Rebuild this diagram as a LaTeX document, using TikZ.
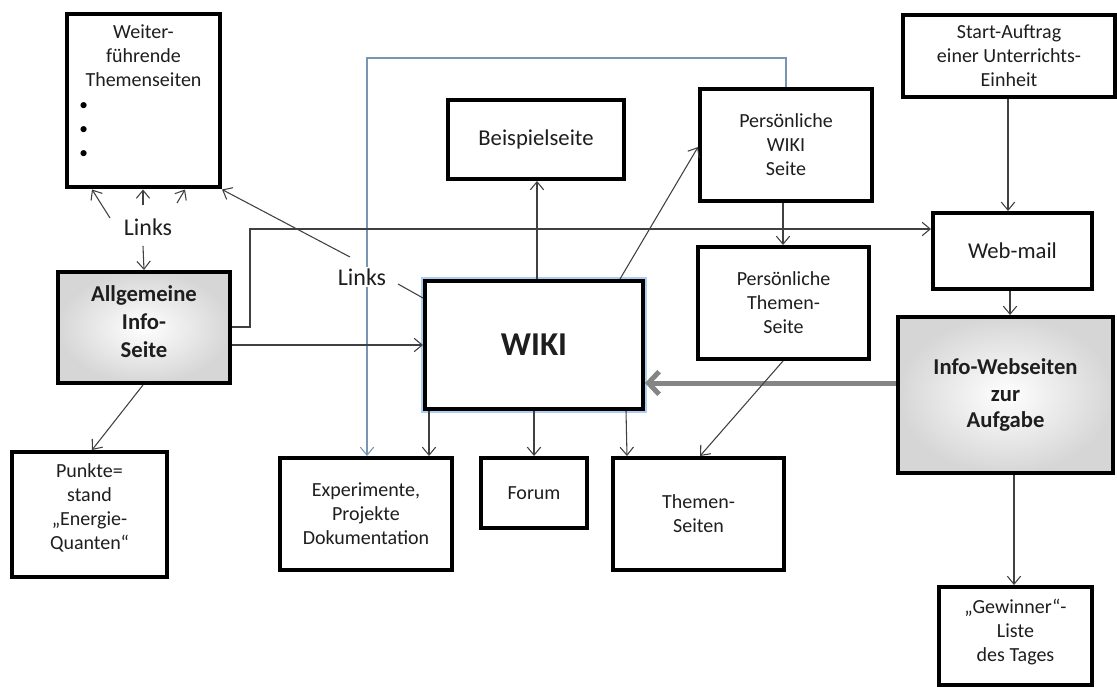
\documentclass[tikz,border=0pt]{standalone}
\usepackage{fontspec}
\setmainfont{Carlito}
\usetikzlibrary{arrows.meta,shadows}
\newcommand\fsz[2]{\fontsize{#1}{#2}\selectfont}
\definecolor{glow}{RGB}{175,205,242}
\definecolor{bluel}{RGB}{120,150,180}
\definecolor{txt}{RGB}{30,30,30}
\begin{document}
\begin{tikzpicture}[x=0.75pt,y=-0.75pt,
  box/.style={draw=black, line width=3pt, fill=white, align=center, inner sep=0pt, font=\fsz{15}{18}, text=txt},
  sz/.style 2 args={minimum width=#1*0.75pt, minimum height=#2*0.75pt},
  arr/.style={draw=black!75, line width=0.8pt, -{Straight Barb[length=6pt,width=10pt]}},
  ln/.style={draw=black!75, line width=0.8pt},
  bluearr/.style={draw=bluel, line width=0.8pt, -{Straight Barb[length=6pt,width=10pt]}},
  grayarr/.style={draw=black!48, line width=3.75pt, -{Straight Barb[length=8pt,width=17pt]}},
  shadebox/.style={box, inner color=white, outer color=black!16, drop shadow={opacity=0.3, shadow xshift=1.5pt, shadow yshift=-1.5pt}},
  lbl/.style={font=\fsz{18}{22}, text=txt, inner sep=1pt},
]
\useasboundingbox (0,0) rectangle (1117,688);

% boxes
\node[box, sz={153}{173}] (weiter) at (143.5,101) {};
\node[anchor=north, align=center, font=\fsz{15}{18}, text=txt, inner sep=0pt] (weitertxt) at (143.5,24) {Weiter-\\führende\\Themenseiten};
\node[anchor=north west, align=left, font=\fsz{13}{18}, text=black, inner sep=0pt] (bul) at (79,102) {\textbullet\\\textbullet\\\textbullet};

\node[shadebox, sz={172}{111}, font=\bfseries\fsz{17}{21}, text depth=9pt] (allg) at (144,327.5) {Allgemeine\\Info-\\Seite};
\node[box, sz={155}{125}, text depth=12pt] (punkte) at (89.5,514.5) {Punkte=\\stand\\„Energie-\\Quanten“};
\node[box, sz={172}{112}] (exp) at (366,514) {Experimente,\\Projekte\\Dokumentation};
\node[box, sz={106}{70}] (forum) at (534,493) {Forum};
\node[box, sz={171}{112}] (themen) at (698.5,514) {Themen-\\Seiten};
\node[box, sz={218}{128}, font=\bfseries\fsz{25}{30}, preaction={draw=glow, line width=6pt}] (wiki) at (534,345) {WIKI};
\node[box, sz={176}{79}, font=\fsz{17}{21}] (beisp) at (536,139.5) {Beispielseite};
\node[box, sz={172}{112}] (pwiki) at (786,145) {Persönliche\\WIKI\\Seite};
\node[box, sz={171}{112}] (pthem) at (783.5,303) {Persönliche\\Themen-\\Seite};
\node[box, sz={212}{82}] (start) at (1009,56) {Start-Auftrag\\einer Unterrichts-\\Einheit};
\node[box, sz={159}{76}, font=\fsz{17}{21}] (webmail) at (1012.5,251) {Web-mail};
\node[shadebox, sz={215}{156}, font=\bfseries\fsz{17}{20}] (infow) at (1005.5,395) {Info-Webseiten\\zur\\Aufgabe};
\node[box, sz={153}{98}, text depth=9pt] (gew) at (1015.5,636) {„Gewinner“-\\Liste\\des Tages};

% blue connector (behind the Links label)
\draw[bluearr] (pwiki.north) -- (786,58) -- (367,58) -- (367,0 |- exp.north);

% labels
\node[lbl] (links1) at (148,227) {Links};
\node[lbl, fill=white] (links2) at (362,277) {Links};

% connectors from labels
\coordinate (l1a) at (110,218);
\coordinate (l1b) at (143,205);
\coordinate (l1c) at (177,203);
\coordinate (l1d) at (143,246);
\draw[arr] (l1a) -- (92,0 |- weiter.south);
\draw[arr] (l1b) -- (143,0 |- weiter.south);
\draw[arr] (l1c) -- (185,0 |- weiter.south);
\draw[arr] (l1d) -- (allg.north);

\coordinate (l2a) at (350,257);
\coordinate (l2b) at (398,284);
\draw[arr] (l2a) -- (weiter.south east);
\draw[ln] (l2b) -- (wiki.west |- 0,298);

% other connectors
\draw[arr] (allg.east |- 0,327) -- (250,327) -- (250,229) -- (webmail.west |- 0,229);
\draw[arr] (allg.east |- 0,345) -- (wiki.west |- 0,345);
\draw[arr] (143,0 |- allg.south) -- (92,0 |- punkte.north);
\draw[arr] (537,0 |- wiki.north) -- (537,0 |- beisp.south);
\draw[arr] (620,0 |- wiki.north) -- (pwiki.west |- 0,147);
\draw[arr] (783,0 |- pwiki.south) -- (783,0 |- pthem.north);
\draw[arr] (1008,0 |- start.south) -- (1008,0 |- webmail.north);
\draw[arr] (1010,0 |- webmail.south) -- (1010,0 |- infow.north);
\draw[grayarr] (infow.west |- 0,383) -- (wiki.east |- 0,383);
\draw[arr] (1014,0 |- infow.south) -- (1014,0 |- gew.north);
\draw[arr] (429,0 |- wiki.south) -- (429,0 |- exp.north);
\draw[arr] (534,0 |- wiki.south) -- (534,0 |- forum.north);
\draw[arr] (626,0 |- wiki.south) -- (627,0 |- themen.north);
\draw[arr] (783,0 |- pthem.south) -- (700,0 |- themen.north);
\end{tikzpicture}
\end{document}
